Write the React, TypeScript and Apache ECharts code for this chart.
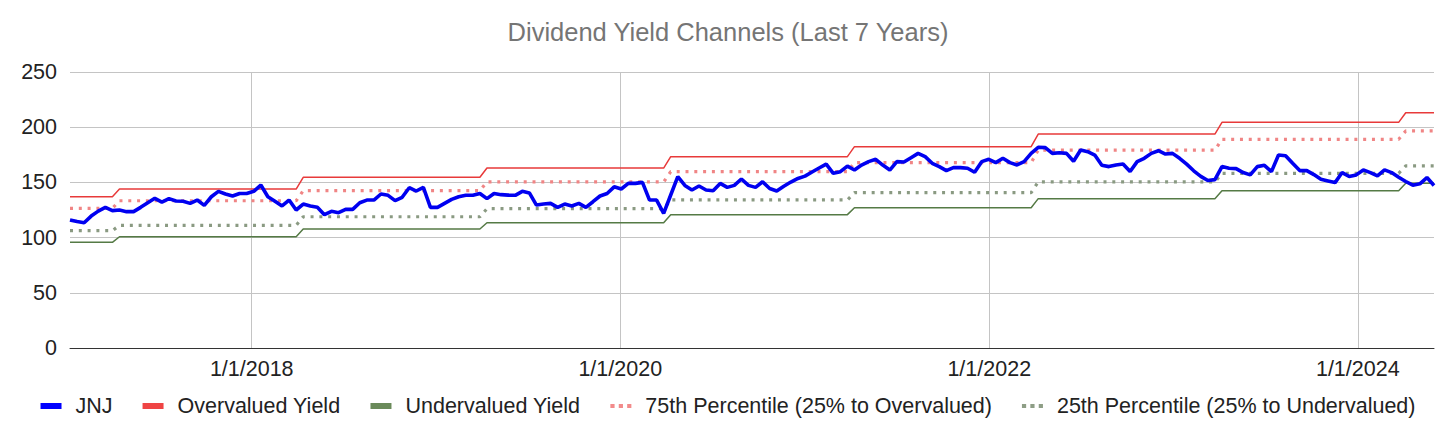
import * as echarts from 'echarts';
import React, { useEffect, useRef } from 'react';

const DAY = 86400000;
// JNJ yield is sampled every two weeks (Fridays), first sample 2017-01-06
const firstSample = '2017-01-06';
const sampleStepDays = 14;
const lastDay = '2024-05-31';

const jnjYield = [
  116, 114.5, 113.5, 119.5, 124, 127.4, 124.4, 125, 123.5, 123.5,
  127.4, 131.5, 135.6, 132.2, 135.3, 133.2, 132.9, 131, 134, 129.2,
  137, 141.9, 139.5, 137.7, 140, 140, 141.9, 147.6, 137, 132.9,
  128.7, 134, 125, 130.4, 128.6, 127.4, 120.8, 123.8, 122.6, 125.6,
  125.6, 131.6, 134, 134, 139.5, 138.3, 133.5, 136.5, 145.2, 142.2,
  145.5, 127.4, 127.4, 131, 134.6, 137, 138.3, 138.3, 140, 135.3,
  140, 138.9, 138.5, 138.3, 141.9, 140.5, 129.5, 130.4, 131, 127.4,
  130.4, 128.6, 131, 127.4, 132.5, 137.7, 140, 146, 144, 149.1,
  149.1, 150, 134, 134, 122, 138.6, 155.2, 147.3, 143.1, 146.7,
  143.1, 142.5, 149.1, 145.5, 147.3, 153.1, 147.3, 145.5, 150.6, 144.5,
  142.2, 146.5, 150.3, 153.6, 155.7, 159.4, 163, 166.6, 158.2, 159.7,
  164.8, 161.2, 165.7, 168.8, 170.9, 165.7, 161.2, 168.8, 168.5, 172.4,
  176.3, 173.3, 167.3, 164.3, 160.7, 163.4, 163.4, 162.8, 159.2, 168.8,
  170.9, 167.9, 171.8, 167.9, 165.8, 168.8, 176.3, 181.8, 181.5, 176.3,
  176.9, 176.3, 169.1, 179.3, 177.8, 174.8, 165.5, 164.3, 165.8, 166.7,
  159.8, 168.8, 171.8, 176.3, 178.7, 175.7, 176.3, 171.8, 166.5, 160.5,
  155.5, 151.7, 152.5, 164.3, 162.8, 162.5, 158.9, 156.8, 164.3, 165.5,
  159.8, 174.8, 174.2, 167.3, 160.7, 160.7, 157.1, 152.8, 151.3, 149.8,
  158.9, 155.3, 156.8, 161.3, 158.9, 155.9, 161.3, 158.9, 154.7, 150.8,
  147.5, 148.7, 154.4, 147.2,
];

// channel levels change once a year, at the first sample after the dividend raise
const raiseDates = [
  '2017-04-14', '2018-04-13', '2019-04-12', '2020-04-10',
  '2021-04-09', '2022-04-08', '2023-04-07', '2024-04-05',
];
const overvaluedYield = [137.1, 144, 154.6, 163, 173.3, 182.4, 193.8, 204.4, 213.1];
const pct75Yield = [126.5, 133.4, 142.5, 150.4, 159.7, 167.9, 179.3, 189, 196.6];
const pct25Yield = [106.3, 111.1, 118.9, 126.2, 134.1, 140.7, 150.4, 158.2, 164.9];
const undervaluedYield = [95.7, 100.8, 107.8, 113.5, 120.8, 127.1, 135.3, 142.5, 149.2];

const xTickDates = ['2018-01-01', '2020-01-01', '2022-01-01', '2024-01-01'];

const FONT = '"Liberation Sans", Arial, sans-serif';
const DOTS = 'path://M0,0h4v4h-4zM8,0h4v4h-4zM16,0h4v4h-4z';

const App: React.FC = () => {
  const chartRef = useRef<HTMLDivElement>(null);

  useEffect(() => {
    document.body.style.margin = '0';
    if (!chartRef.current) return;
    const chart = echarts.init(chartRef.current, undefined, { renderer: 'svg' });

    const start = Date.parse(firstSample);
    const dates = jnjYield.map((_, i) => start + i * sampleStepDays * DAY);
    const raises = raiseDates.map((d) => Date.parse(d));
    const levelAt = (t: number) => raises.filter((r) => r <= t).length;
    const channel = (levels: number[]) => dates.map((t) => [t, levels[levelAt(t)]]);
    const ticks = xTickDates.map((d) => Date.parse(d));

    const dotted = { type: [3, 5.8] as number[], width: 3.2 };

    chart.setOption({
      animation: false,
      textStyle: { fontFamily: FONT },
      title: {
        text: 'Dividend Yield Channels (Last 7 Years)',
        left: 'center',
        top: 19,
        padding: 0,
        textStyle: { color: '#757575', fontSize: 25.5, fontWeight: 'normal', fontFamily: FONT },
      },
      legend: {
        left: 'center',
        top: 390,
        itemWidth: 21,
        itemHeight: 6,
        itemGap: 30,
        textStyle: { fontSize: 21.5, color: '#222', fontFamily: FONT, padding: [0, 0, 0, 9] },
        data: [
          { name: 'JNJ', icon: 'rect' },
          { name: 'Overvalued Yield', icon: 'rect' },
          { name: 'Undervalued Yield', icon: 'rect' },
          { name: '75th Percentile (25% to Overvalued)', icon: DOTS },
          { name: '25th Percentile (25% to Undervalued)', icon: DOTS },
        ],
      },
      grid: { left: 70, right: 22, top: 72, bottom: 91 },
      xAxis: {
        type: 'value',
        min: start,
        max: Date.parse(lastDay),
        axisLine: { show: true, onZero: false, lineStyle: { color: '#333', width: 1 } },
        axisTick: { show: false, customValues: ticks },
        splitLine: { show: true, lineStyle: { color: '#c4c4c4', width: 1 } },
        axisLabel: {
          customValues: ticks,
          color: '#222',
          fontSize: 21.5,
          margin: 10,
          fontFamily: FONT,
          formatter: (v: number) => {
            const d = new Date(v);
            return `${d.getUTCMonth() + 1}/${d.getUTCDate()}/${d.getUTCFullYear()}`;
          },
        },
      },
      yAxis: {
        type: 'value',
        min: 0,
        max: 250,
        interval: 50,
        axisLine: { show: false },
        axisTick: { show: false },
        splitLine: { lineStyle: { color: '#c4c4c4', width: 1 } },
        axisLabel: { color: '#222', fontSize: 21.5, margin: 13, fontFamily: FONT },
      },
      series: [
        {
          name: 'JNJ',
          type: 'line',
          data: dates.map((t, i) => [t, jnjYield[i]]),
          showSymbol: false,
          symbol: 'none',
          color: '#0000ff',
          lineStyle: { color: '#0000f0', width: 3.6 },
          z: 5,
        },
        {
          name: 'Overvalued Yield',
          type: 'line',
          data: channel(overvaluedYield),
          symbol: 'none',
          color: '#ef4444',
          lineStyle: { color: '#e83a3a', width: 1.5 },
          z: 3,
        },
        {
          name: 'Undervalued Yield',
          type: 'line',
          data: channel(undervaluedYield),
          symbol: 'none',
          color: '#6a8a5a',
          lineStyle: { color: '#557a45', width: 1.5 },
          z: 3,
        },
        {
          name: '75th Percentile (25% to Overvalued)',
          type: 'line',
          data: channel(pct75Yield),
          symbol: 'none',
          color: '#f28b8b',
          lineStyle: { color: '#f08585', ...dotted },
          z: 2,
        },
        {
          name: '25th Percentile (25% to Undervalued)',
          type: 'line',
          data: channel(pct25Yield),
          symbol: 'none',
          color: '#8e9e86',
          lineStyle: { color: '#8a9a82', ...dotted },
          z: 2,
        },
      ],
    });

    return () => {
      chart.dispose();
    };
  }, []);

  return <div ref={chartRef} style={{ width: '1456px', height: '439px' }} />;
};

export default App;
